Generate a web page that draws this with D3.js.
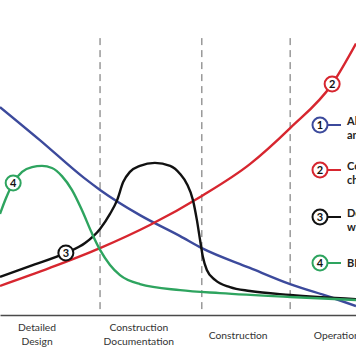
<!DOCTYPE html>
<html>
<head>
<meta charset="utf-8">
<script src="https://cdn.jsdelivr.net/npm/d3@7"></script>
<style>
  html, body { margin: 0; padding: 0; background: #fff; overflow: hidden; }
  svg { display: block; }
</style>
</head>
<body>
<svg id="chart" width="356" height="364"></svg>
<script>
// ---- data (conceptual units: x = project timeline 0-100, y = relative level 0-100) ----
const abilityToImpact = [[0,69.3],[11.2,58.3],[23.6,45.7],[28.1,41.7],[39.3,33.3],[50.6,26.3],[56.7,22.3],[70.2,15.7],[81.5,10.3],[92.7,6],[100,3]];
const costOfChanges   = [[0,9.7],[14.0,15.7],[28.1,22.3],[42.1,30],[56.7,39.7],[70.2,50.3],[81.5,62.3],[93.3,77],[100,90.5]];
const traditionalEffort = [[0,12.7],[8.4,16.3],[18.5,20.7],[23.9,24],[28.1,28.7],[30.9,33.7],[32.9,38.3],[34.6,44.3],[36.5,47.7],[39.3,49.7],[43.5,50.7],[47.8,49.7],[50.6,47],[52.5,43.7],[54.2,38.3],[55.3,31.7],[56.2,25],[57.0,19.3],[58.1,15],[60.4,11.7],[64.6,9.3],[70.2,8],[81.5,6.7],[100,5.3]];
const bimEffort = [[0,33.7],[1.7,39],[3.7,44],[6.2,47.7],[9.0,49.3],[11.8,49.7],[14.6,49],[17.4,46.3],[20.2,41.7],[23.0,35],[25.8,27.3],[28.1,21.7],[30.9,16.7],[33.7,13.3],[39.3,10.3],[50.6,8.3],[61.8,7.3],[81.5,6],[100,5]];

const phaseBoundaries = [28.1, 56.7, 81.5];
const phaseLabels = [
  { lines: ["Detailed", "Design"], x: 10.4 },
  { lines: ["Construction", "Documentation"], x: 39.0 },
  { lines: ["Construction"], x: 66.9 },
  { lines: ["Operation"], x: 94.6 }
];
const seriesNames = ["1", "2", "3", "4"];
const legendLines = [
  ["Ability to impact cost", "and functional capabilities"],
  ["Cost of design", "changes"],
  ["Design effort", "with traditional process"],
  ["BIM design process"]
];
// curve markers: which series, at which data point index
const curveMarkers = [
  { label: "2", series: 1, index: 7 },
  { label: "3", series: 2, index: 2 },
  { label: "4", series: 3, index: 2 }
];

const colors = ["#3c4a9c", "#d7262f", "#111111", "#2ea45f"];
const allSeries = [abilityToImpact, costOfChanges, traditionalEffort, bimEffort];

// ---- drawing ----
const svg = d3.select("#chart");
const x = d3.scaleLinear().domain([0, 100]).range([0, 356]);
const y = d3.scaleLinear().domain([0, 100]).range([315, 15]);

// dashed phase separators
svg.append("g").selectAll("line").data(phaseBoundaries).join("line")
  .attr("x1", d => x(d)).attr("x2", d => x(d))
  .attr("y1", y(92.3)).attr("y2", y(1.7))
  .attr("stroke", "#666").attr("stroke-width", 1)
  .attr("stroke-dasharray", "7,5");

// baseline axis
const axis = d3.axisBottom(x).tickValues([]).tickSizeOuter(0);
const axisG = svg.append("g").attr("transform", `translate(0,${y(0)})`).call(axis);
axisG.select(".domain").attr("stroke", "#4a4a4a").attr("stroke-width", 1.6);

// phase labels
const lab = svg.append("g").attr("font-family", "Lato, 'Open Sans', sans-serif")
  .attr("font-size", 10.3).attr("fill", "#333").attr("text-anchor", "middle");
phaseLabels.forEach(p => {
  const t = lab.append("text").attr("x", x(p.x));
  if (p.lines.length === 2) {
    t.append("tspan").attr("x", x(p.x)).attr("y", 331).text(p.lines[0]);
    t.append("tspan").attr("x", x(p.x)).attr("y", 345).text(p.lines[1]);
  } else {
    t.attr("y", 339).text(p.lines[0]);
  }
});

// curves
const line = d3.line().x(d => x(d[0])).y(d => y(d[1])).curve(d3.curveMonotoneX);
svg.append("g").selectAll("path").data(allSeries).join("path")
  .attr("d", line).attr("fill", "none")
  .attr("stroke", (d, i) => colors[i]).attr("stroke-width", 2.4)
  .attr("stroke-linejoin", "round");

// circled numbers on curves
function badge(g, cx, cy, label, color) {
  g.append("circle").attr("cx", cx).attr("cy", cy).attr("r", 7.5)
    .attr("fill", "#fff").attr("stroke", color).attr("stroke-width", 2);
  g.append("text").attr("x", cx).attr("y", cy + 3.8).attr("text-anchor", "middle")
    .attr("font-family", "Lato, 'Open Sans', sans-serif").attr("font-weight", "bold")
    .attr("font-size", 11).attr("fill", "#111").text(label);
}
const mg = svg.append("g");
curveMarkers.forEach(m => {
  const p = allSeries[m.series][m.index];
  badge(mg, x(p[0]), y(p[1]), m.label, colors[m.series]);
});

// legend
const legendY = [125, 170, 217, 263];
const lg = svg.append("g");
seriesNames.forEach((name, i) => {
  const cy = legendY[i];
  lg.append("line").attr("x1", 327).attr("x2", 341).attr("y1", cy).attr("y2", cy)
    .attr("stroke", colors[i]).attr("stroke-width", 2);
  badge(lg, 320, cy, name, colors[i]);
  const t = lg.append("text").attr("font-family", "Lato, 'Open Sans', sans-serif")
    .attr("font-weight", "bold").attr("font-size", 11).attr("fill", "#222");
  legendLines[i].forEach((ln, k) => {
    t.append("tspan").attr("x", 347).attr("y", cy + (legendLines[i].length > 1 ? 0 : 4) + k * 14).text(ln);
  });
});
</script>
</body>
</html>
